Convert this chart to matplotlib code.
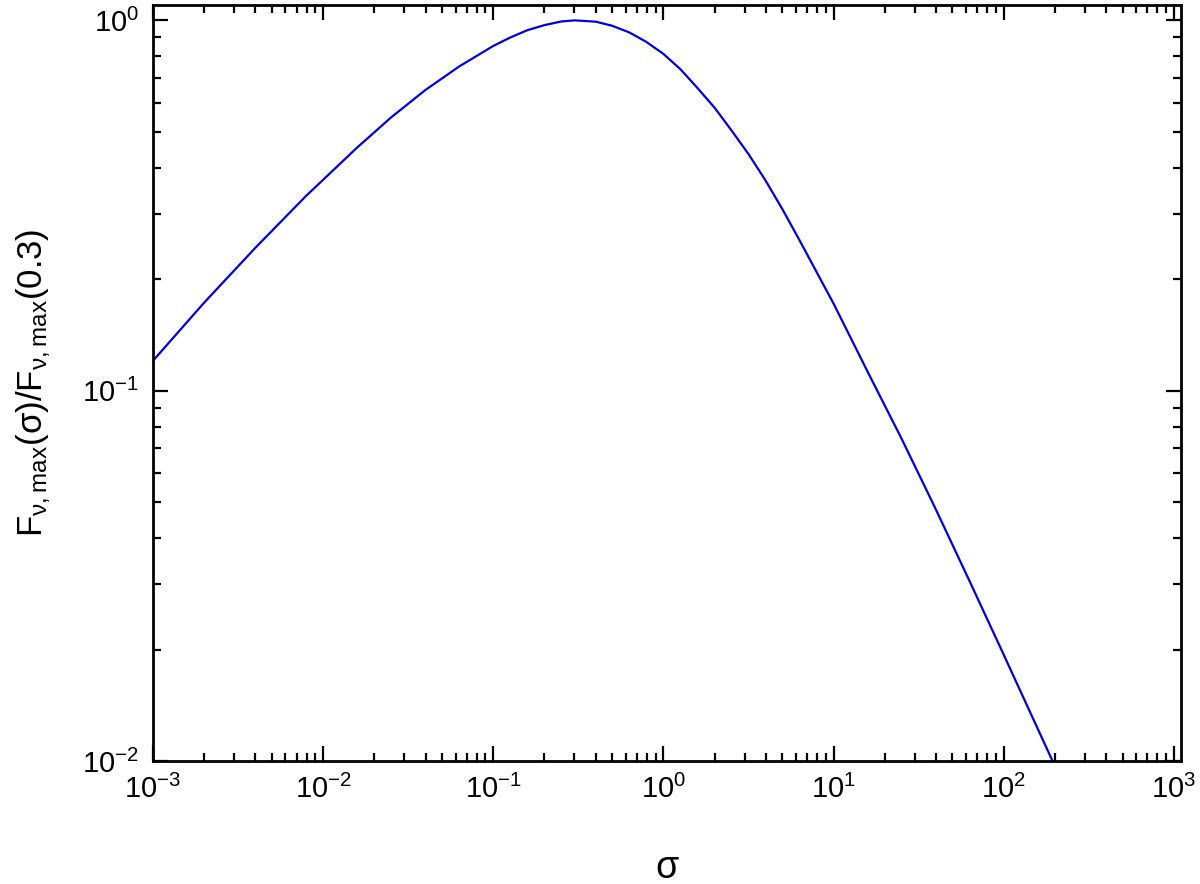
import matplotlib
matplotlib.use("Agg")
import matplotlib.pyplot as plt
from matplotlib.ticker import FixedLocator, LogLocator, NullFormatter

plt.rcParams["font.family"] = ["Liberation Sans", "DejaVu Sans"]
plt.rcParams["mathtext.fontset"] = "custom"
plt.rcParams["mathtext.rm"] = "Liberation Sans"
plt.rcParams["mathtext.it"] = "Liberation Sans:italic"
plt.rcParams["mathtext.sf"] = "Liberation Sans"

# values
sigma = [0.001, 0.002, 0.004, 0.0079, 0.0158, 0.0251, 0.0398, 0.0631,
         0.1, 0.126, 0.158, 0.2, 0.251, 0.3, 0.4, 0.5, 0.63, 0.79, 1.0,
         1.26, 1.58, 2.0, 2.51, 3.16, 3.98, 5.01, 6.31, 10.0, 15.8, 25.1,
         39.8, 63.1, 100.0, 194.0]
flux_ratio = [0.1205, 0.173, 0.2433, 0.335, 0.453, 0.547, 0.648, 0.751,
              0.853, 0.899, 0.940, 0.971, 0.993, 1.000, 0.992, 0.967,
              0.928, 0.876, 0.812, 0.738, 0.658, 0.581, 0.505, 0.436,
              0.370, 0.309, 0.255, 0.172, 0.113, 0.0743, 0.0480, 0.0306,
              0.0194, 0.0100]

x_ticks = [1e-3, 1e-2, 1e-1, 1e0, 1e1, 1e2, 1e3]
y_ticks = [1e-2, 1e-1, 1e0]

fig = plt.figure(figsize=(12.0, 8.84), dpi=100, facecolor="white")
ax = fig.add_axes([0.1275, 0.139, 0.8565, 0.8553])

ax.plot(sigma, flux_ratio, color="#0000dd", linewidth=1.6)

ax.set_xscale("log")
ax.set_yscale("log")
ax.set_xlim(1e-3, 1.1e3)
ax.set_ylim(1e-2, 1.1)

ax.xaxis.set_major_locator(FixedLocator(x_ticks))
ax.yaxis.set_major_locator(FixedLocator(y_ticks))
for axis in (ax.xaxis, ax.yaxis):
    axis.set_minor_locator(LogLocator(base=10, subs=range(2, 10), numticks=20))
    axis.set_minor_formatter(NullFormatter())

ax.tick_params(which="both", direction="in", top=True, right=True,
               width=1.6, colors="black")
ax.tick_params(which="major", length=11, labelsize=21, pad=10)
ax.tick_params(which="minor", length=6)

for side in ("top", "right", "left", "bottom"):
    ax.spines[side].set_linewidth(2.0)

ax.set_xlabel("σ", fontsize=27, labelpad=33)
ax.set_ylabel(r"F$_{\mathregular{ν,max}}$(σ)/F$_{\mathregular{ν,max}}$(0.3)",
              fontsize=25, labelpad=21)

fig.savefig("out.png", dpi=100, facecolor="white")
